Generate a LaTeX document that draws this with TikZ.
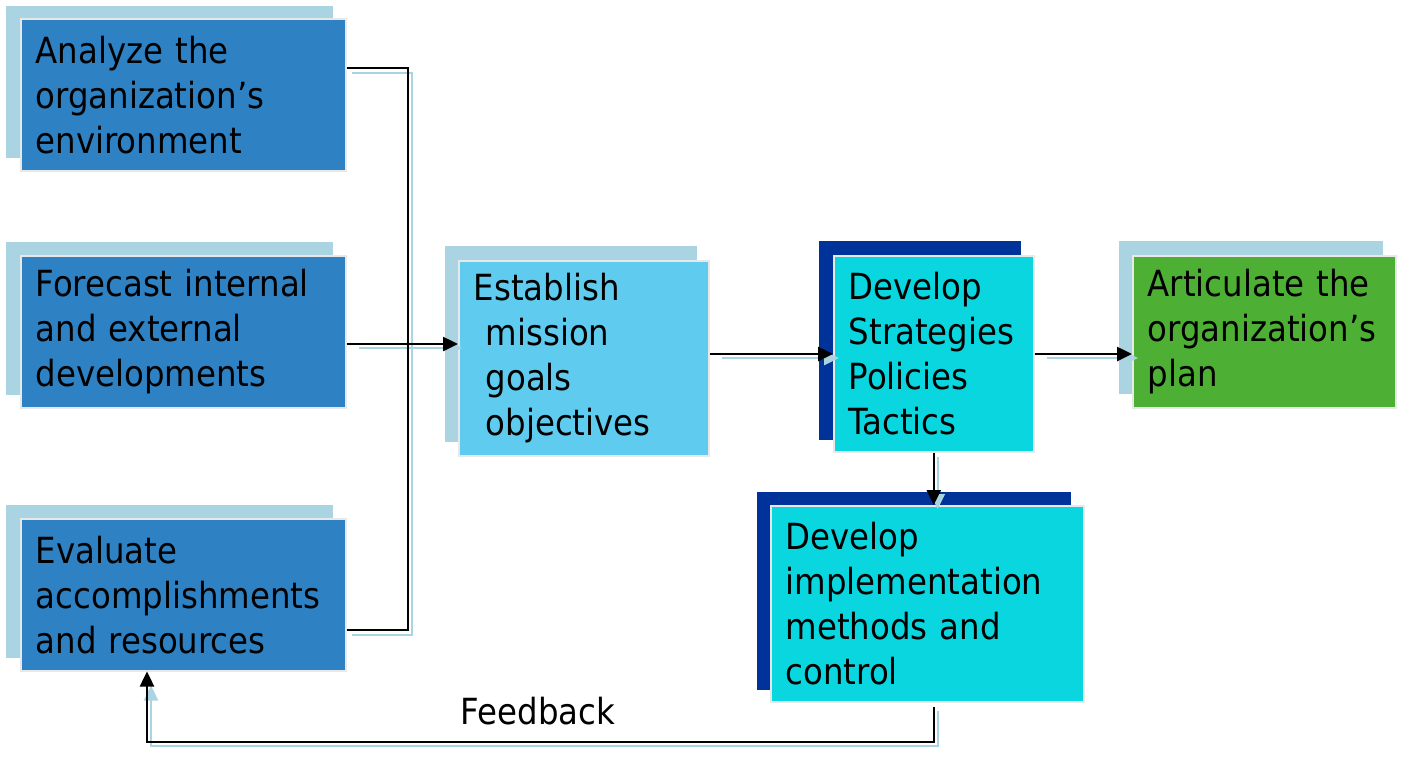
\documentclass[tikz,border=0pt]{standalone}
\usepackage{fontspec}
\setmainfont{DejaVu Sans Condensed}
\usetikzlibrary{arrows.meta,calc}
\definecolor{boxblue}{HTML}{2E82C3}
\definecolor{shadowlight}{HTML}{AAD4E1}
\definecolor{skyblue}{HTML}{5FCBEE}
\definecolor{cyanbox}{HTML}{09D6DF}
\definecolor{navy}{HTML}{003399}
\definecolor{greenbox}{HTML}{4DB034}
\definecolor{rim}{HTML}{E8E8E8}
\tikzset{
  mainbox/.style={draw=rim, line width=1.5pt, anchor=north west, align=left,
    inner xsep=15pt, inner ysep=0pt, font=\fontsize{36}{45}\selectfont},
  conn/.style={line width=2.5pt, black},
  arr/.style={conn, -{Triangle[length=15pt,width=14pt]}},
  shadowline/.style={line width=2.5pt, shadowlight},
  shadowarr/.style={shadowline, -{Triangle[length=15pt,width=14pt]}},
  lbl/.style={font=\fontsize{36}{40}\selectfont}
}
\begin{document}
\begin{tikzpicture}[x=1pt,y=-1pt]
\useasboundingbox (0,0) rectangle (1408,756);
% shadows
\fill[shadowlight] (6,6) rectangle (333,158);
\fill[shadowlight] (6,242) rectangle (333,395);
\fill[shadowlight] (6,505) rectangle (333,658);
\fill[shadowlight] (445,246) rectangle (697,442);
\fill[navy] (819,241) rectangle (1021,440);
\fill[shadowlight] (1119,241) rectangle (1383,394);
\fill[navy] (757,492) rectangle (1071,690);
% boxes
\node[mainbox, fill=boxblue, text width=295pt, minimum height=152pt] (a) at (20,18)
  {Analyze the\\organization’s\\environment};
\node[mainbox, fill=boxblue, text width=295pt, minimum height=152pt] (f) at (20,255)
  {Forecast internal\\and external\\developments};
\node[mainbox, fill=boxblue, text width=295pt, minimum height=152pt] (e) at (20,518)
  {Evaluate\\accomplishments\\and resources};
\node[mainbox, fill=skyblue, text width=220pt, minimum height=195pt] (m) at (458,260)
  {Establish\\\hspace*{12pt}mission\\\hspace*{12pt}goals\\\hspace*{12pt}objectives};
\node[mainbox, fill=cyanbox, text width=170pt, minimum height=196pt] (s) at (833,255)
  {Develop\\Strategies\\Policies\\Tactics};
\node[mainbox, fill=greenbox, text width=233pt, minimum height=152pt] (p) at (1132,255)
  {Articulate the\\organization’s\\plan};
\node[mainbox, fill=cyanbox, text width=283pt, minimum height=196pt] (i) at (770,505)
  {Develop\\implementation\\methods and\\control};
\node[lbl] (fb) at (538,711) {Feedback};
% helper coordinates
\coordinate (aout) at ($(a.north east)+(0,50)$);
\coordinate (eout) at ($(e.north east)+(0,112)$);
\coordinate (fout) at ($(f.north east)+(0,89)$);
\coordinate (bx) at (408,0);
\coordinate (sout) at ($(s.north east)+(0,99)$);
\coordinate (iout) at (i.south -| s.south);
\coordinate (fbl) at (0,742);
\coordinate (ein) at ($(e.south west)+(127,0)$);
% shadow connectors
\draw[shadowline] ($(aout)+(5,5)$) -| ($(bx|-eout)+(4,5)$) -- ($(eout)+(5,5)$);
\draw[shadowarr] ($(fout)+(12,4)$) -- ($(m.west|-fout)+(4,4)$);
\draw[shadowarr] ($(m.east|-sout)+(12,4)$) -- ($(s.west|-sout)+(6,4)$);
\draw[shadowarr] ($(sout)+(12,4)$) -- ($(p.west|-sout)+(6,4)$);
\draw[shadowarr] ($(s.south)+(4,4)$) -- ($(s.south|-i.north)+(4,4)$);
\draw[shadowarr] ($(iout)+(4,8)$) -- ($(iout|-fbl)+(4,4)$) -- ($(ein|-fbl)+(4,4)$) -- ($(ein)+(4,14)$);
% black connectors
\draw[conn] (aout) -| (bx|-eout) -- (eout);
\draw[arr] (fout) -- (m.west|-fout);
\draw[arr] (m.east|-sout) -- (s.west|-sout);
\draw[arr] (sout) -- (p.west|-sout);
\draw[arr] (s.south) -- (s.south|-i.north);
\draw[arr] ($(iout)+(0,4)$) -- (iout|-fbl) -- (ein|-fbl) -- (ein);
\end{tikzpicture}
\end{document}
